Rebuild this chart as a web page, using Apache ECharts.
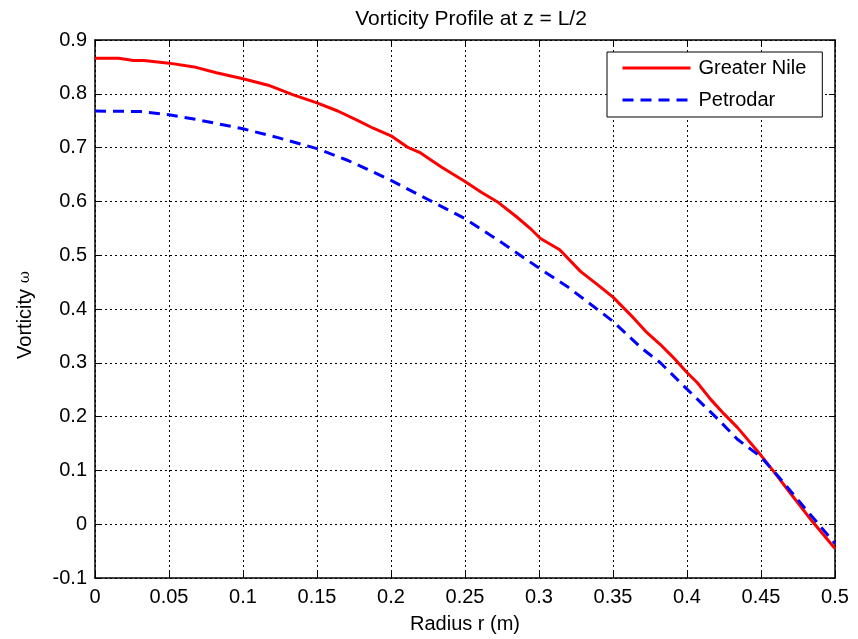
<!DOCTYPE html>
<html>
<head>
<meta charset="utf-8">
<script src="https://cdn.jsdelivr.net/npm/echarts@6/dist/echarts.min.js"></script>
<style>
  html, body { margin: 0; padding: 0; background: #fff; }
  #chart { width: 858px; height: 639px; }
</style>
</head>
<body>
<div id="chart"></div>
<script>
// radius (m) and vorticity
const rNile = [0, 0.016, 0.026, 0.033, 0.05, 0.067, 0.082, 0.1, 0.117, 0.134, 0.15, 0.164, 0.177, 0.188, 0.2,
  0.211, 0.22, 0.234, 0.25, 0.261, 0.272, 0.285, 0.294, 0.301, 0.314, 0.328, 0.341, 0.35, 0.364, 0.373,
  0.382, 0.39, 0.4, 0.407, 0.416, 0.425, 0.434, 0.45, 0.458, 0.47, 0.485, 0.5];
const wNile = [0.866, 0.866, 0.862, 0.862, 0.857, 0.850, 0.839, 0.828, 0.816, 0.798, 0.783, 0.768, 0.751, 0.736, 0.722,
  0.701, 0.690, 0.664, 0.637, 0.617, 0.599, 0.571, 0.550, 0.531, 0.510, 0.470, 0.442, 0.422, 0.383, 0.356,
  0.334, 0.312, 0.282, 0.263, 0.232, 0.205, 0.180, 0.128, 0.100, 0.057, 0.004, -0.045];

const rPetro = [0, 0.031, 0.05, 0.069, 0.1, 0.123, 0.15, 0.171, 0.183, 0.2, 0.224, 0.25, 0.274, 0.3, 0.319,
  0.341, 0.35, 0.369, 0.382, 0.4, 0.421, 0.434, 0.45, 0.461, 0.479, 0.5];
const wPetro = [0.768, 0.767, 0.761, 0.752, 0.735, 0.719, 0.698, 0.676, 0.661, 0.639, 0.605, 0.568, 0.525, 0.476, 0.442,
  0.396, 0.377, 0.328, 0.300, 0.251, 0.195, 0.158, 0.125, 0.091, 0.032, -0.036];

const seriesNames = ['Greater Nile', 'Petrodar'];

const font = 'Liberation Sans, Arial, sans-serif';
const tickFmt = v => String(+v.toFixed(2));

const chart = echarts.init(document.getElementById('chart'), null, { renderer: 'canvas' });

const xBase = {
  type: 'value', min: 0, max: 0.5, interval: 0.05,
  axisLine: { onZero: false, lineStyle: { color: '#000', width: 1.5 } },
  axisTick: { inside: true, length: 6, lineStyle: { color: '#000' } }
};
const yBase = {
  type: 'value', min: -0.1, max: 0.9, interval: 0.1,
  axisLine: { onZero: false, lineStyle: { color: '#000', width: 1.5 } },
  axisTick: { inside: true, length: 6, lineStyle: { color: '#000' } }
};

const option = {
  backgroundColor: '#fff',
  animation: false,
  title: {
    text: 'Vorticity Profile at z = L/2',
    left: 466, top: 4, textAlign: 'center',
    textStyle: { fontFamily: font, fontSize: 21, fontWeight: 'normal', color: '#000' }
  },
  grid: { left: 95, right: 23, top: 40, bottom: 59, show: false },
  legend: {
    data: seriesNames,
    orient: 'vertical',
    left: 607, top: 52,
    padding: [6, 16, 7, 14],
    itemGap: 12,
    itemWidth: 68, itemHeight: 14,
    backgroundColor: '#fff',
    borderColor: '#000', borderWidth: 1,
    itemStyle: { opacity: 0 },
    lineStyle: { width: 3 },
    textStyle: { fontFamily: font, fontSize: 20, color: '#000', padding: [0, 0, 0, 3] }
  },
  xAxis: [
    Object.assign({}, xBase, {
      position: 'bottom',
      name: 'Radius r (m)', nameLocation: 'middle', nameGap: 36,
      nameTextStyle: { fontFamily: font, fontSize: 20, color: '#000' },
      axisLabel: { fontFamily: font, fontSize: 20, color: '#000', margin: 9, formatter: tickFmt },
      splitLine: { show: true, lineStyle: { color: '#000', type: [2, 3], width: 1 } }
    }),
    Object.assign({}, xBase, {
      position: 'top',
      axisLabel: { show: false }, splitLine: { show: false }
    })
  ],
  yAxis: [
    Object.assign({}, yBase, {
      position: 'left',
      name: 'Vorticity {w|ω}', nameLocation: 'middle', nameGap: 60,
      nameTextStyle: {
        fontFamily: font, fontSize: 20, color: '#000', padding: [0, 12, 0, 0],
        rich: { w: { fontFamily: 'DejaVu Serif, serif', fontSize: 15, color: '#000' } }
      },
      axisLabel: { fontFamily: font, fontSize: 20, color: '#000', margin: 8, formatter: tickFmt },
      splitLine: { show: true, lineStyle: { color: '#000', type: [2, 3], width: 1 } }
    }),
    Object.assign({}, yBase, {
      position: 'right',
      axisLabel: { show: false }, splitLine: { show: false }
    })
  ],
  series: [
    {
      name: seriesNames[0], type: 'line', symbol: 'none', z: 3,
      data: rNile.map((r, i) => [r, wNile[i]]),
      lineStyle: { color: '#ff0000', width: 3 },
      itemStyle: { color: '#ff0000' }
    },
    {
      name: seriesNames[1], type: 'line', symbol: 'none', z: 4,
      data: rPetro.map((r, i) => [r, wPetro[i]]),
      lineStyle: { color: '#0000ff', width: 3, type: [11, 7] },
      itemStyle: { color: '#0000ff' }
    }
  ]
};

chart.setOption(option);
</script>
</body>
</html>
